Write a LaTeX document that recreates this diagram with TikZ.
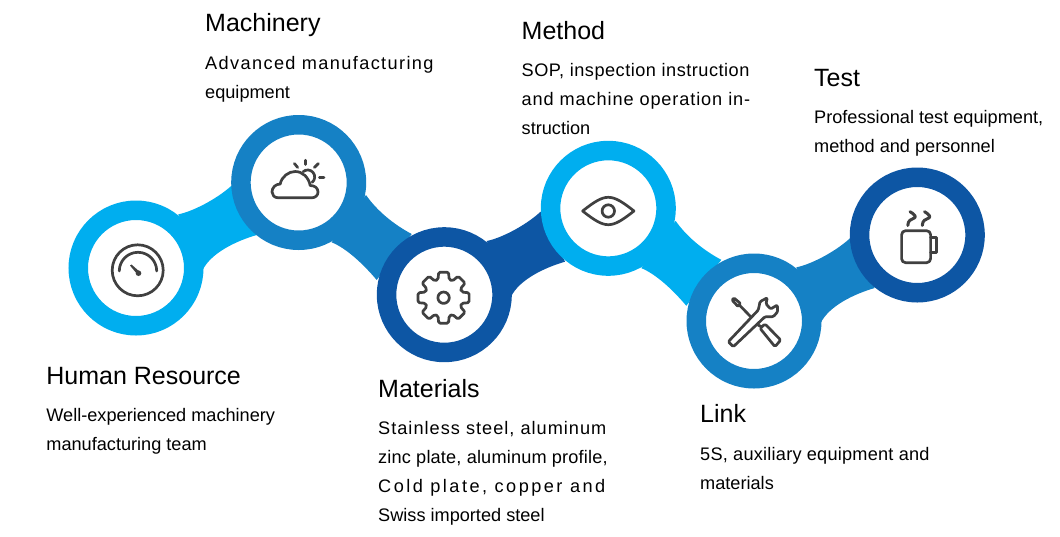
\documentclass[tikz,border=0pt]{standalone}
\usepackage{fontspec}
\setmainfont{Liberation Sans}
\usepackage{xcolor}
\usetikzlibrary{calc}

\definecolor{lightblue}{HTML}{00AEEF}
\definecolor{midblue}{HTML}{1581C5}
\definecolor{darkblue}{HTML}{0D56A4}
\definecolor{icongray}{HTML}{404040}

% letter spaced line
\newcommand{\ls}[2]{{\addfontfeature{LetterSpace=#1}#2}}

% link going up to the right, and link going down to the right
\newcommand{\uplink}[2]{
    \fill[#2, shift={(#1)}] (42.3,-53.7) .. controls (55,-56) and (80,-68) .. (96.3,-83)
        -- (120.7,-33) .. controls (100,-27) and (75,-15) .. (66.7,2) -- cycle;
}
\newcommand{\downlink}[2]{
    \fill[#2, shift={(#1)}] (67.3,12.5) .. controls (78,28) and (95,42) .. (113,51.5)
        -- (78,97.5) .. controls (65,82) and (48,66) .. (33,59.8) -- cycle;
}

\begin{document}
\begin{tikzpicture}[
    x=1pt, y=-1pt,
    ring/.style={circle, draw=#1, line width=19.5pt, fill=white, minimum size=115.5pt, inner sep=0pt},
    icon/.style={draw=icongray, line width=2.7pt, line cap=round, line join=round},
    heading/.style={anchor=base west, inner sep=0pt, font=\fontsize{25}{29}\selectfont},
    body/.style={anchor=base west, inner sep=0pt, align=left, font=\fontsize{18.15}{29}\selectfont},
    ]
    \useasboundingbox (0,0) rectangle (1060,536);

    % Centres of the rings
    \coordinate (human) at (136,268);
    \coordinate (machinery) at (298.7,182.5);
    \coordinate (materials) at (444.3,294.7);
    \coordinate (method) at (608.3,208.3);
    \coordinate (link) at (754,321);
    \coordinate (test) at (917.3,235);

    % Links between the rings
    \uplink{human}{lightblue}
    \downlink{machinery}{midblue}
    \uplink{materials}{darkblue}
    \downlink{method}{lightblue}
    \uplink{link}{midblue}

    % Rings
    \node[ring=lightblue] (humanring) at (human) {};
    \node[ring=midblue] (machineryring) at (machinery) {};
    \node[ring=darkblue] (materialsring) at (materials) {};
    \node[ring=lightblue] (methodring) at (method) {};
    \node[ring=midblue] (linkring) at (link) {};
    \node[ring=darkblue] (testring) at (test) {};

    % Gauge
    \begin{scope}[shift={(human)}]
        \draw[icon] (1.7,2.3) circle[radius=25.5pt];
        \draw[icon] (-16.7,3) arc[start angle=180, end angle=0, radius=18.7pt];
        \fill[icongray] (-6,-2.5) -- (-4.5,-3.5) -- (4,4) -- (1.5,6.5) -- cycle;
        \fill[icongray] (2.5,5.2) circle[radius=2.8pt];
    \end{scope}

    % Cloud and sun
    \begin{scope}[shift={(machinery)}]
        \draw[icon] (-20.3,15.3) .. controls (-24.5,15.3) and (-26.7,12.5) .. (-26.7,9.5)
            .. controls (-26.7,5) and (-23,1.5) .. (-18.5,1.5)
            .. controls (-17,-6) and (-10,-11) .. (-3.5,-11)
            .. controls (4,-11) and (10,-5) .. (11.5,3)
            .. controls (16,3) and (19.3,5.5) .. (19.3,9.5)
            .. controls (19.3,13) and (16.5,15.3) .. (13,15.3) -- cycle;
        \draw[icon] (4.5,-10.9) arc[start angle=130, end angle=-50, radius=7pt];
        \draw[icon] (7,-22.3) -- (7,-18);
        \draw[icon] (-4.3,-19) -- (-1,-15);
        \draw[icon] (19.7,-19) -- (15.7,-15);
        \draw[icon] (20.7,-5.3) -- (25.3,-5.3);
    \end{scope}

    % Gear
    \begin{scope}[shift={(materials)}, shift={(-0.7,3)}]
        \draw[icon, rounded corners=1.5pt] (-17:19)
            \foreach \a in {0,45,...,315} {
                -- (\a-17:19) -- (\a-11:26) -- (\a+11:26) -- (\a+17:19)
            } -- cycle;
        \draw[icon] (0,0) circle[radius=5.7pt];
    \end{scope}

    % Eye
    \begin{scope}[shift={(method)}]
        \draw[icon] (-25.7,2.7) .. controls (-14,-6.5) and (-7,-11) .. (0,-11)
            .. controls (7,-11) and (14,-6.5) .. (25.7,2.7)
            .. controls (14,11.9) and (7,16.4) .. (0,16.4)
            .. controls (-7,16.4) and (-14,11.9) .. cycle;
        \draw[icon] (0,2.7) circle[radius=6.2pt];
    \end{scope}

    % Wrench and screwdriver
    \begin{scope}[shift={(link)}]
        \draw[icon, rounded corners=1.2pt] (-25.7,20.7) -- (4.3,-11) -- (6,-19.3) -- (13.3,-23.3)
            -- (12,-17) -- (16.7,-12) -- (23.3,-16) -- (23.7,-9.3) -- (19.3,-4.3)
            -- (11,-4.3) -- (-20.7,25.7) -- cycle;
        \draw[icon, rounded corners=1pt] (-22,-21) -- (-20,-23) -- (-13.5,-17.5) -- (-16,-14.5) -- cycle;
        \draw[icon] (-14.7,-16) -- (-3,-4);
        \draw[icon] (4,4) -- (8,6);
        \draw[icon, rounded corners=1.5pt] (6,7.3) -- (11,3) -- (26.7,19) -- (21,25.7) -- cycle;
    \end{scope}

    % Mug
    \begin{scope}[shift={(test)}]
        \draw[icon, rounded corners=4pt] (-15.7,-4.3) -- (-15.7,27.7) -- (13.3,27.7) -- (13.3,-4.3) -- cycle;
        \draw[icon] (13.3,2.7) -- (19.3,2.7) -- (19.3,17.7) -- (13.3,17.7);
        \foreach \dx in {0,14.5} {
            \draw[icon, line width=3pt] (-7.3+\dx,-23.3) .. controls (-3+\dx,-21) and (-0.5+\dx,-18) .. (-3+\dx,-17)
                .. controls (-6+\dx,-16) and (-9.5+\dx,-14.5) .. (-9.5+\dx,-9.5);
        }
    \end{scope}

    % Human Resource
    \node[heading] (humantitle) at (46.2,384) {Human Resource};
    \node[body] (humantext) at (46.2,450) {Well-experienced machinery\\manufacturing team};

    % Machinery
    \node[heading] (machinerytitle) at (205,31.7) {Machinery};
    \node[body] (machinerytext) at (205,98.7) {\ls{7.6}{Advanced manufacturing}\\equipment};

    % Materials
    \node[heading] (materialstitle) at (378,397.7) {Materials};
    \node[body] (materialstext) at (378,521.2) {\ls{5.6}{Stainless steel, aluminum}\\\ls{1}{zinc plate, aluminum profile,}\\\ls{13.6}{Cold plate, copper and}\\Swiss imported steel};

    % Method
    \node[heading] (methodtitle) at (521.5,39) {Method};
    \node[body] (methodtext) at (521.5,134.3) {\ls{2.8}{SOP, inspection instruction}\\\ls{4.9}{and machine operation in-}\\struction};

    % Test
    \node[heading] (testtitle) at (814,86.7) {Test};
    \node[body] (testtext) at (814,152.7) {Professional test equipment,\\method and personnel};

    % Link
    \node[heading] (linktitle) at (700,422.7) {Link};
    \node[body] (linktext) at (700,489) {\ls{1.3}{5S, auxiliary equipment and}\\materials};

\end{tikzpicture}
\end{document}
